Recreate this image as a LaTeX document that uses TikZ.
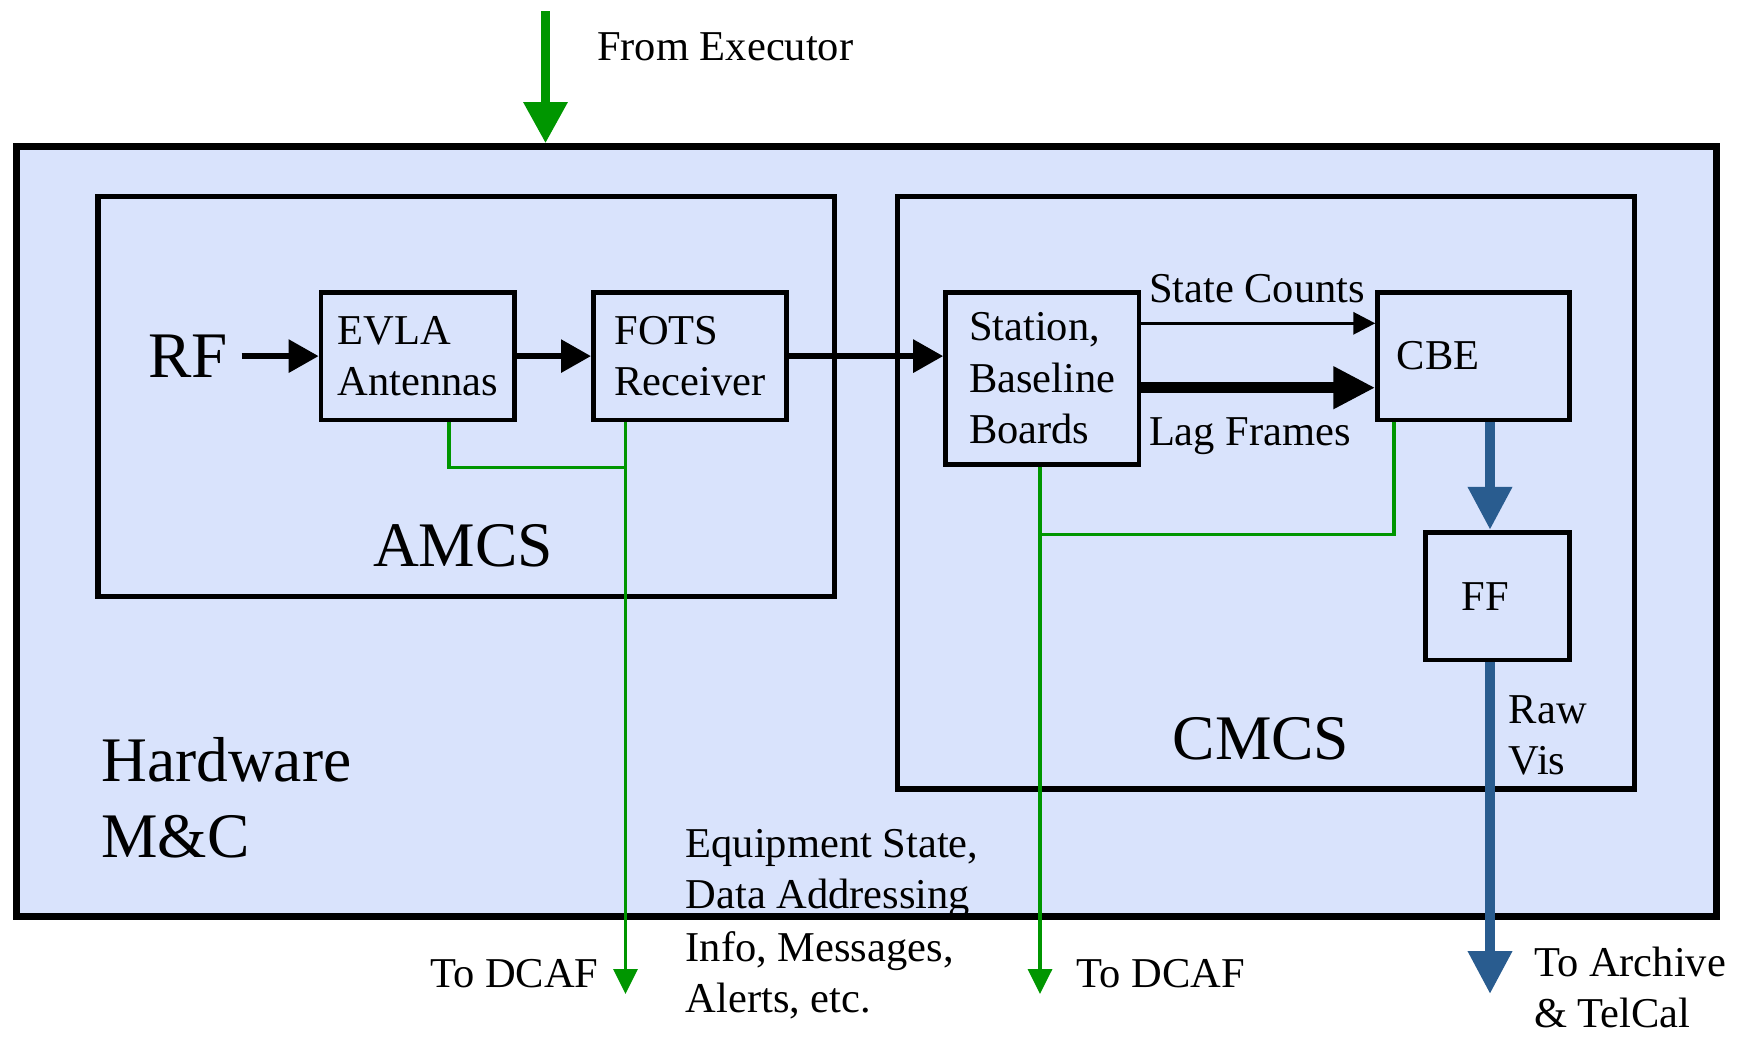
\documentclass[tikz,border=0pt]{standalone}
\usepackage{fontspec}
\setmainfont{Liberation Serif}
\usetikzlibrary{arrows.meta}

\definecolor{panel}{RGB}{217,227,252}
\definecolor{ctlgreen}{RGB}{0,150,0}
\definecolor{datablue}{RGB}{41,92,143}

\tikzset{
  smalltext/.style={font=\fontsize{42.5}{51.5}\selectfont},
  bigtext/.style={font=\fontsize{63.5}{76.5}\selectfont},
  frame/.style={draw=black, fill=panel, rectangle, inner sep=0pt},
  unit/.style={frame, line width=4.7pt, smalltext, align=left},
  lbl/.style={inner sep=0pt, smalltext, anchor=base west},
  sig/.style={draw=black, line width=6pt, -{Triangle[length=30pt,width=32pt]}},
  thinsig/.style={draw=black, line width=3.3pt, -{Triangle[length=22pt,width=22pt]}},
  heavysig/.style={draw=black, line width=11pt, -{Triangle[length=42pt,width=40pt]}},
  datapipe/.style={draw=datablue, line width=10pt, -{Triangle[length=43pt,width=42pt]}},
  ctlfeed/.style={draw=ctlgreen, line width=9pt, -{Triangle[length=41pt,width=42pt]}},
  ctl/.style={draw=ctlgreen, line width=3.5pt},
  ctlarrow/.style={ctl, -{Triangle[length=25pt,width=24pt]}},
}

\begin{document}
\begin{tikzpicture}[x=1pt,y=-1pt]
\useasboundingbox (0,0) rectangle (1742,1037);

% enclosing panels
\node[frame, line width=7pt, minimum width=1699.8pt, minimum height=769.9pt] (hw) at (866.6,531.65) {};
\node[frame, line width=5.5pt, minimum width=736.6pt, minimum height=400pt] (amcs) at (466.1,396.6) {};
\node[frame, line width=5.5pt, minimum width=736.6pt, minimum height=592.2pt] (cmcs) at (1266,492.7) {};

% functional units
\node[unit, minimum width=193.4pt, minimum height=127.8pt] (evla) at (417.7,356.1) {EVLA\\Antennas};
\node[unit, minimum width=193.3pt, minimum height=127.8pt] (fots) at (690,356.1) {FOTS\\Receiver};
\node[unit, minimum width=193.3pt, minimum height=172.2pt] (sbb) at (1042.2,378.3) {Station,\\Baseline\\Boards};
\node[unit, minimum width=192.2pt, minimum height=127.8pt, text width=154pt, inner xsep=19pt] (cbe) at (1473.7,356.1) {CBE};
\node[unit, minimum width=144.4pt, minimum height=127.8pt, text width=72pt, inner xsep=36pt] (ff) at (1497.6,596.1) {FF};

% panel titles and free labels
\node[inner sep=0pt, bigtext, anchor=base] (amcstitle) at (463,566.6) {AMCS};
\node[inner sep=0pt, bigtext, anchor=base] (cmcstitle) at (1261,759) {CMCS};
\node[lbl, bigtext] (hwtitlea) at (101,781) {Hardware};
\node[lbl, bigtext] (hwtitleb) at (101,857.7) {M\&C};
\node[lbl, font=\fontsize{65}{78}\selectfont] (rf) at (147.8,377.7) {RF};
\node[lbl] (fromexec) at (597,60) {From Executor};
\node[lbl] (statecounts) at (1148.8,302) {State Counts};
\node[lbl] (lagframes) at (1148.8,445.5) {Lag Frames};
\node[lbl] (rawa) at (1508.7,723) {Raw};
\node[lbl] (rawb) at (1508.7,774) {Vis};
\node[lbl] (archivea) at (1534,976.6) {To Archive};
\node[lbl] (archiveb) at (1534,1027.7) {\& TelCal};
\node[lbl] (dcafleft) at (430,987.7) {To DCAF};
\node[lbl] (dcafright) at (1076.6,987.7) {To DCAF};
\node[lbl] (infoa) at (685.5,857.7) {Equipment State,};
\node[lbl] (infob) at (685.5,908.8) {Data Addressing};
\node[lbl] (infoc) at (685.5,961) {Info, Messages,};
\node[lbl] (infod) at (685.5,1012) {Alerts, etc.};

% helper points for connector routing
\coordinate (execsrc) at (545.5,11);
\coordinate (sclevel) at (0,323.3);
\coordinate (lflevel) at (0,387.7);
\coordinate (bluex) at (1490,0);
\coordinate (archive) at (1490,994);
\coordinate (amcsjoin) at (625.5,467.7);
\coordinate (dcafa) at (625.5,994);
\coordinate (cmcsjoin) at (1040,534.4);
\coordinate (dcafb) at (1040,994);

% monitor and control (green)
\draw[ctlfeed] (execsrc) -- (execsrc |- hw.north);
\draw[ctl] ([xshift=31.3pt]evla.south) |- (amcsjoin);
\draw[ctlarrow] (fots.south -| dcafa) -- (dcafa);
\draw[ctl] ([xshift=-79.7pt]cbe.south) |- (cmcsjoin);
\draw[ctlarrow] (sbb.south -| dcafb) -- (dcafb);

% signal path (black)
\draw[sig] ([xshift=14pt]rf.east |- evla.west) -- (evla.west);
\draw[sig] (evla.east) -- (fots.west);
\draw[sig] (fots.east) -- (fots.east -| sbb.west);
\draw[thinsig] (sbb.east |- sclevel) -- (cbe.west |- sclevel);
\draw[heavysig] (sbb.east |- lflevel) -- (cbe.west |- lflevel);

% visibility data path (blue)
\draw[datapipe] (cbe.south -| bluex) -- (ff.north -| bluex);
\draw[datapipe] (ff.south -| bluex) -- (archive);
\end{tikzpicture}
\end{document}
